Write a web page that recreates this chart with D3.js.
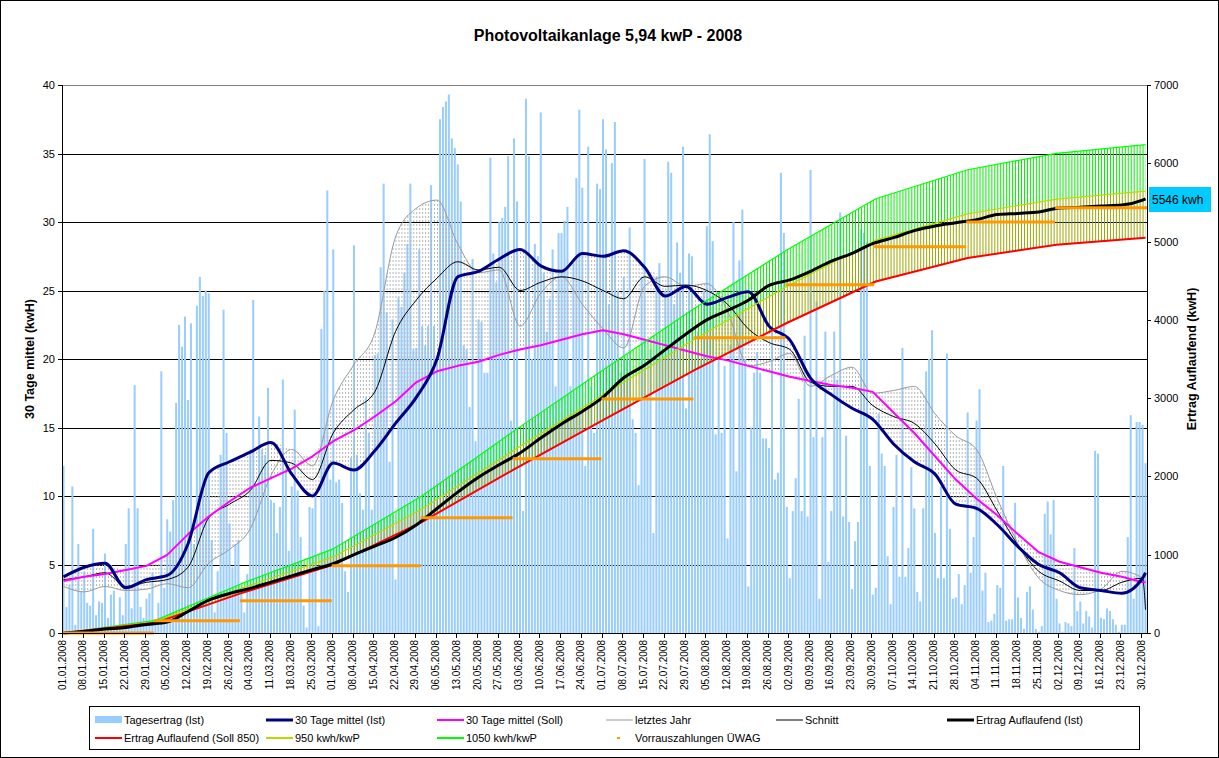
<!DOCTYPE html>
<html><head><meta charset="utf-8">
<script src="https://cdn.jsdelivr.net/npm/d3@7"></script>
<style>
body{margin:0;background:#fff}
text{font-family:Arial,"Liberation Sans",sans-serif;fill:#000}
</style>
</head><body>
<svg id="c" width="1219" height="758"></svg>
<script>
// ---------------- DATA ----------------
const title = "Photovoltaikanlage 5,94 kwP - 2008";
// Tagesertrag (Ist) per day, by month (kWh)
const tagJan=[12.2,1.9,3.5,10.7,0.6,6.5,3.0,4.5,2.2,2.0,7.6,1.3,2.3,2.2,5.8,1.1,2.8,3.1,0.5,2.6,1.3,6.5,9.1,1.8,18.1,9.1,1.9,1.1,2.5,2.9,4.4];
const tagFeb=[1.0,2.2,19.1,3.3,8.3,7.4,9.7,16.8,22.5,20.9,23.1,17.0,22.6,6.5,23.9,26.0,24.6,25.0,24.8,6.8,1.5,4.5,13.0,23.6,14.6,8.0,4.8,6.5,6.8];
const tagMar=[3.0,1.5,4.3,13.4,24.3,10.9,15.8,13.4,13.0,17.9,9.7,9.5,7.3,9.2,18.5,12.0,6.0,10.7,16.3,10.4,7.0,2.0,0.4,9.2,9.1,10.1,0.5,22.2,25.0,32.3,11.2];
const tagApr=[28.0,11.0,11.2,9.5,4.5,3.0,12.8,28.3,13.0,10.2,9.0,17.2,14.6,9.0,20.3,20.4,26.7,32.8,23.4,12.5,22.9,3.9,24.5,23.8,26.3,28.4,32.8,20.7,20.8,28.0];
const tagMay=[22.4,21.0,22.4,32.7,22.4,20.0,37.5,38.4,38.8,39.3,36.1,35.4,34.2,31.5,21.0,20.7,16.5,27.3,14.0,22.9,22.7,19.0,19.0,34.7,27.7,25.6,30.0,30.3,31.1,34.8,15.5];
const tagJun=[36.1,31.5,13.0,8.9,39.0,34.8,20.0,28.4,27.5,38.0,26.3,22.0,24.4,28.0,18.0,29.2,29.2,30.1,31.1,18.0,27.0,33.2,38.2,32.5,12.2,35.5,18.0,14.6,32.8,32.4];
const tagJul=[37.5,35.3,24.0,34.3,37.3,25.0,19.0,26.0,20.0,29.6,15.6,14.6,10.8,26.0,34.6,17.2,20.7,7.3,26.0,27.0,20.7,25.0,34.4,33.6,24.0,28.5,26.3,35.5,16.4,27.7,27.5];
const tagAug=[20.0,22.0,20.0,25.0,29.7,36.4,28.6,14.5,20.0,14.6,19.5,6.9,21.0,30.0,11.8,27.2,30.9,20.0,3.4,15.0,19.0,20.5,19.0,14.2,14.2,13.5,22.0,11.2,11.7,33.6,29.2];
const tagSep=[9.2,4.0,8.9,11.3,17.1,8.9,21.7,8.5,33.8,14.3,24.2,2.5,14.3,22.0,5.2,8.9,22.0,18.5,30.7,8.5,14.4,8.1,3.2,6.7,8.1,29.5,29.2,28.5,12.2,2.8];
const tagOct=[3.3,16.0,13.1,12.2,5.6,2.1,9.2,13.0,4.1,20.8,4.1,6.2,12.1,9.1,3.0,2.3,9.1,19.1,20.0,22.1,7.3,4.0,10.7,4.0,20.4,7.6,2.5,2.6,4.3,2.1,3.5];
const tagNov=[16.1,4.4,7.0,15.5,17.8,3.1,4.4,0.8,0.9,1.4,3.5,3.3,12.2,0.9,1.0,1.0,9.5,2.6,1.1,0.3,3.0,3.4,1.7,0.3,0.1,0.5,8.7,9.6,7.2,9.7];
const tagDec=[2.5,0.7,0.1,0.8,0.7,0.5,6.2,1.6,2.3,0.7,1.6,1.2,0.4,13.3,13.1,1.1,1.0,1.8,1.6,1.0,0.6,0.1,0.6,0.6,7.0,15.9,2.5,15.4,15.4,15.2,12.4];
const tagesertrag=[].concat(tagJan,tagFeb,tagMar,tagApr,tagMay,tagJun,tagJul,tagAug,tagSep,tagOct,tagNov,tagDec);

// weekly sample days (day index in year) for the line series
const sampleDays=[0,7,14,21,28,35,42,49,56,63,70,77,84,91,98,105,112,119,126,133,140,147,154,161,168,175,182,189,196,203,210,217,224,231,238,245,252,259,266,273,280,287,294,301,308,315,322,329,336,343,350,357,364,365];
const mittelIst=[4.1,4.8,5.1,3.3,3.9,4.2,6.5,11.7,12.5,13.2,13.9,11.6,10.0,12.4,11.9,13.3,15.3,17.2,20.0,26.0,26.4,27.3,28.0,26.8,26.4,27.7,27.5,27.9,26.7,24.6,25.3,24.0,24.5,24.9,22.4,21.4,18.6,17.4,16.4,15.6,13.8,12.5,11.6,9.4,9.1,7.9,6.3,5.0,4.4,3.3,3.1,2.9,4.0,4.4];
const mittelSoll=[3.8,4.1,4.3,4.6,4.9,5.7,7.2,8.5,9.6,10.6,11.3,12.0,12.9,14.0,14.8,15.8,16.9,18.3,19.1,19.5,19.8,20.3,20.7,21.0,21.4,21.8,22.1,21.8,21.4,21.0,20.6,20.2,19.9,19.5,19.1,18.7,18.4,18.1,17.9,17.6,16.1,14.6,12.9,11.2,9.8,8.6,7.2,5.9,5.2,4.8,4.4,4.1,3.7,3.7];
const letztesJahr=[3.4,3.0,3.4,3.1,3.2,3.6,3.3,5.1,6.1,7.6,11.5,13.4,12.2,17.0,19.6,21.9,28.9,31.0,31.6,28.4,26.3,26.5,22.4,24.8,26.0,24.0,22.2,20.8,25.3,26.0,25.3,25.5,23.5,19.5,19.8,20.4,18.0,18.8,19.4,17.5,17.7,18.0,16.0,14.4,13.4,9.8,6.5,4.0,3.1,2.8,3.2,4.5,4.0,3.8];
const schnitt=[3.9,4.1,4.4,3.4,3.7,3.9,4.8,8.4,9.4,10.4,12.6,12.4,11.2,14.6,16.3,17.6,22.0,24.3,25.9,27.1,26.5,26.7,25.0,25.6,26.0,25.7,25.0,24.4,26.0,25.3,25.4,25.0,24.0,22.2,21.2,20.7,18.3,18.0,18.0,16.6,15.8,15.3,13.8,11.9,11.3,8.9,6.4,4.5,3.8,3.1,3.1,3.7,4.0,1.7];
const auflaufendIst=[0,20,50,70,110,140,275,420,505,570,650,730,810,885,1000,1110,1220,1380,1590,1800,1990,2150,2300,2490,2670,2830,3014,3260,3420,3620,3820,4000,4120,4250,4440,4510,4620,4750,4850,4975,5050,5140,5200,5240,5280,5345,5360,5378,5430,5440,5455,5467,5530,5546];

// month boundary days for the target curves and advance payments
const monthDays=[0,31,60,91,121,152,182,213,244,274,305,335,365];
const soll850=[0,130,510,870,1420,2090,2720,3360,3960,4490,4790,4960,5050];
const kwp950=[0,145,570,972,1587,2336,3040,3755,4426,5018,5353,5543,5644];
const kwp1050=[0,161,630,1075,1754,2582,3360,4151,4892,5547,5917,6127,6238];
const vorraus=[0,157,413,860,1473,2227,2989,3772,4449,4934,5250,5433];
const endLabel="5546 kwh";

const leftTicks=[0,5,10,15,20,25,30,35,40];
const rightTicks=[0,1000,2000,3000,4000,5000,6000,7000];
const fmt=d3.timeFormat("%d.%m.%Y");
const labelDays=d3.range(0,365,7);
const xLabels=labelDays.map(d=>fmt(new Date(2008,0,1+d)));

// ---------------- CHART ----------------
const svg=d3.select("#c");
const X0=62,X1=1147,Y0=85,Y1=633;
const xBand=d3.scaleBand().domain(d3.range(366)).range([X0,X1]).paddingInner(0.32).paddingOuter(0.16);
const xDay=d3.scaleLinear().domain([0,366]).range([X0,X1]);
const yL=d3.scaleLinear().domain([0,40]).range([Y1,Y0]);
const yR=d3.scaleLinear().domain([0,7000]).range([Y1,Y0]);
const step=xBand.step();
const xc=d=>xDay(d+0.5);
const curve=d3.curveMonotoneX;

svg.append("rect").attr("x",0.5).attr("y",0.5).attr("width",1218).attr("height",757).attr("fill","#fff").attr("stroke","#000");

// patterns
const defs=svg.append("defs");
function vpat(id,color,dash,h){
  const p=defs.append("pattern").attr("id",id).attr("patternUnits","userSpaceOnUse")
    .attr("width",step).attr("height",h).attr("x",X0+step/2);
  p.append("line").attr("x1",0.5).attr("x2",0.5).attr("y1",0).attr("y2",h)
    .attr("stroke",color).attr("stroke-width",1).attr("stroke-dasharray",dash||null);
}
vpat("pGray","#b4b4b4","2,2",4);
vpat("pGreen","#00ee00",null,10);
vpat("pOlive","#9aa600",null,10);

// gridlines
svg.append("g").selectAll("line").data(leftTicks.filter(t=>t>0&&t<40)).join("line")
  .attr("x1",X0).attr("x2",X1).attr("y1",d=>Math.round(yL(d))+0.5).attr("y2",d=>Math.round(yL(d))+0.5)
  .attr("stroke","#000").attr("stroke-width",1);
svg.append("line").attr("x1",X0).attr("x2",X1).attr("y1",Y0+0.5).attr("y2",Y0+0.5).attr("stroke","#808080");

// bars
svg.append("g").selectAll("rect").data(tagesertrag).join("rect")
  .attr("x",(d,i)=>xBand(i)).attr("width",xBand.bandwidth())
  .attr("y",d=>yL(d)).attr("height",d=>Y1-yL(d)).attr("fill","#99ccff");

// high-low lines (left group)
const leftSeries=[mittelIst,mittelSoll,letztesJahr,schnitt];
const hi=sampleDays.map((d,i)=>d3.max(leftSeries,s=>s[i]));
const lo=sampleDays.map((d,i)=>d3.min(leftSeries,s=>s[i]));
svg.append("path").datum(sampleDays).attr("fill","url(#pGray)")
  .attr("d",d3.area().curve(curve).x(d=>xc(d)).y0((d,i)=>yL(lo[i])).y1((d,i)=>yL(hi[i])));

// right group bands
svg.append("path").datum(monthDays).attr("fill","url(#pOlive)")
  .attr("d",d3.area().x(d=>xc(d)).y0((d,i)=>yR(soll850[i])).y1((d,i)=>yR(kwp950[i])));
svg.append("path").datum(monthDays).attr("fill","url(#pGreen)")
  .attr("d",d3.area().x(d=>xc(d)).y0((d,i)=>yR(kwp950[i])).y1((d,i)=>yR(kwp1050[i])));

function line(days,vals,y,color,w,c){
  svg.append("path").datum(days).attr("fill","none").attr("stroke",color).attr("stroke-width",w)
    .attr("stroke-linejoin","round")
    .attr("d",d3.line().curve(c||d3.curveLinear).x(d=>xc(d)).y((d,i)=>y(vals[i])));
}
line(sampleDays,letztesJahr,yL,"#999999",1,curve);
line(sampleDays,schnitt,yL,"#000",1,curve);
line(sampleDays,mittelSoll,yL,"#ff00ff",2);
line(sampleDays,mittelIst,yL,"#000080",3,curve);
line(monthDays,kwp1050,yR,"#00ff00",1.2);
line(monthDays,kwp950,yR,"#b4dc00",1.2);
line(monthDays,soll850,yR,"#ff0000",2);
line(sampleDays,auflaufendIst,yR,"#000",3,curve);

// advance payments
svg.append("g").selectAll("line").data(vorraus).join("line")
  .attr("x1",(d,i)=>xDay(monthDays[i])).attr("x2",(d,i)=>xDay(i==11?366:monthDays[i+1]))
  .attr("y1",d=>yR(d)).attr("y2",d=>yR(d)).attr("stroke","#ff9900").attr("stroke-width",3);

// axes
svg.append("line").attr("x1",X0+0.5).attr("x2",X0+0.5).attr("y1",Y0).attr("y2",Y1).attr("stroke","#000");
svg.append("line").attr("x1",X1+0.5).attr("x2",X1+0.5).attr("y1",Y0).attr("y2",Y1).attr("stroke","#000");
svg.append("line").attr("x1",X0).attr("x2",X1).attr("y1",Y1+0.5).attr("y2",Y1+0.5).attr("stroke","#000");

const lg=svg.append("g");
lg.selectAll("line").data(leftTicks).join("line").attr("x1",X0-4).attr("x2",X0)
  .attr("y1",d=>Math.round(yL(d))+0.5).attr("y2",d=>Math.round(yL(d))+0.5).attr("stroke","#000");
lg.selectAll("text").data(leftTicks).join("text").attr("x",X0-7).attr("y",d=>yL(d)+4)
  .attr("text-anchor","end").attr("font-size",11).text(d=>d);
const rg=svg.append("g");
rg.selectAll("line").data(rightTicks).join("line").attr("x1",X1).attr("x2",X1+4)
  .attr("y1",d=>Math.round(yR(d))+0.5).attr("y2",d=>Math.round(yR(d))+0.5).attr("stroke","#000");
rg.selectAll("text").data(rightTicks).join("text").attr("x",X1+7).attr("y",d=>yR(d)+4)
  .attr("font-size",11).text(d=>d);

const xg=svg.append("g");
xg.selectAll("line").data(labelDays).join("line").attr("x1",d=>Math.round(xDay(d))+0.5).attr("x2",d=>Math.round(xDay(d))+0.5)
  .attr("y1",Y1).attr("y2",Y1+5).attr("stroke","#000");
xg.selectAll("text").data(xLabels).join("text")
  .attr("transform",(d,i)=>`translate(${xDay(labelDays[i])+3.5},${Y1+7}) rotate(-90)`)
  .attr("text-anchor","end").attr("font-size",10).text(d=>d);

// titles
svg.append("text").attr("x",608).attr("y",41).attr("text-anchor","middle").attr("font-size",16).attr("font-weight","bold").text(title);
svg.append("text").attr("transform","translate(34,359) rotate(-90)").attr("text-anchor","middle").attr("font-size",12.5).attr("font-weight","bold").text("30 Tage mittel (kwH)");
svg.append("text").attr("transform","translate(1196,359) rotate(-90)").attr("text-anchor","middle").attr("font-size",12.5).attr("font-weight","bold").text("Ertrag Auflaufend (kwH)");

// end label
svg.append("rect").attr("x",1149).attr("y",187).attr("width",62).attr("height",25).attr("fill","#00ccff");
svg.append("text").attr("x",1152).attr("y",204).attr("font-size",12).text(endLabel);

// legend
const L=svg.append("g");
L.append("rect").attr("x",89.5).attr("y",706.5).attr("width",1050).attr("height",43).attr("fill","#fff").attr("stroke","#000");
const legendItems=[
 {t:"Tagesertrag (Ist)",type:"bar",c:"#99ccff",x:95,r:0},
 {t:"30 Tage mittel (Ist)",type:"line",c:"#000080",w:3,x:266,r:0},
 {t:"30 Tage mittel (Soll)",type:"line",c:"#ff00ff",w:2,x:437,r:0},
 {t:"letztes Jahr",type:"line",c:"#999999",w:1,x:606,r:0},
 {t:"Schnitt",type:"line",c:"#000",w:1,x:776,r:0},
 {t:"Ertrag Auflaufend (Ist)",type:"line",c:"#000",w:3,x:947,r:0},
 {t:"Ertrag Auflaufend (Soll 850)",type:"line",c:"#ff0000",w:2,x:95,r:1},
 {t:"950 kwh/kwP",type:"line",c:"#b4dc00",w:2,x:266,r:1},
 {t:"1050 kwh/kwP",type:"line",c:"#00ff00",w:2,x:437,r:1},
 {t:"Vorrauszahlungen ÜWAG",type:"dot",c:"#ff9900",x:606,r:1}];
legendItems.forEach(it=>{
  const y=it.r?738:720;
  if(it.type==="bar") L.append("rect").attr("x",it.x).attr("y",y-4).attr("width",27).attr("height",7).attr("fill",it.c);
  else if(it.type==="line") L.append("line").attr("x1",it.x).attr("x2",it.x+27).attr("y1",y).attr("y2",y).attr("stroke",it.c).attr("stroke-width",it.w);
  else L.append("rect").attr("x",it.x+11).attr("y",y-1).attr("width",3).attr("height",2).attr("fill",it.c);
  L.append("text").attr("x",it.x+29).attr("y",y+4).attr("font-size",11).text(it.t);
});
</script>
</body></html>
